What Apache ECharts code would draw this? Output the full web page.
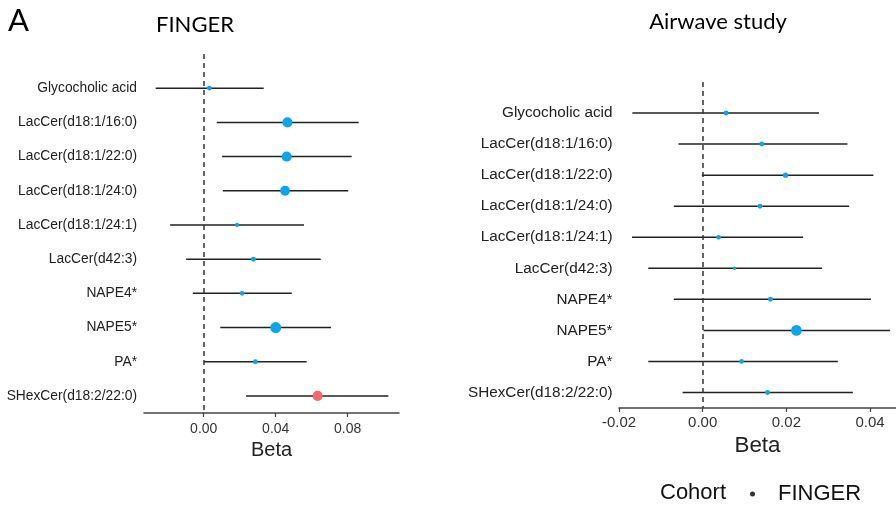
<!DOCTYPE html>
<html>
  <head>
    <meta charset="utf-8" />
    <title>FINGER / Airwave forest plot</title>
    <script src="https://cdn.jsdelivr.net/npm/echarts@6/dist/echarts.min.js"></script>
    <style>
      html, body { margin: 0; padding: 0; background: #fff; }
      #main { width: 896px; height: 508px; }
    </style>
  </head>
  <body>
    <div id="main"></div>
    <script>
      // 代谢物名称
      var categories = ['Glycocholic acid', 'LacCer(d18:1/16:0)', 'LacCer(d18:1/22:0)', 'LacCer(d18:1/24:0)',
        'LacCer(d18:1/24:1)', 'LacCer(d42:3)', 'NAPE4*', 'NAPE5*', 'PA*', 'SHexCer(d18:2/22:0)'];

      // FINGER
      var fingerBeta = [0.0031, 0.0465, 0.0461, 0.0452, 0.0185, 0.0276, 0.0213, 0.0400, 0.0287, 0.0633];
      var fingerLow  = [-0.0267, 0.0072, 0.0102, 0.0106, -0.0187, -0.0098, -0.0061, 0.0092, 0.0002, 0.0235];
      var fingerHigh = [0.0333, 0.0861, 0.0822, 0.0803, 0.0557, 0.0650, 0.0489, 0.0707, 0.0572, 0.1026];
      var fingerLogP = [1.0, 3.0, 3.0, 2.9, 0.8, 1.1, 1.0, 3.3, 1.1, 3.0];
      var fingerFlag = [0, 0, 0, 0, 0, 0, 0, 0, 0, 1];
      var fingerTicks = [0, 0.04, 0.08];

      // Airwave study
      var airBeta = [0.0056, 0.0141, 0.0198, 0.0137, 0.0038, 0.0076, 0.0162, 0.0224, 0.0093, 0.0155];
      var airLow  = [-0.0168, -0.0058, -0.0002, -0.0069, -0.0169, -0.0130, -0.0069, 0.0002, -0.0130, -0.0048];
      var airHigh = [0.0278, 0.0346, 0.0408, 0.0350, 0.0240, 0.0285, 0.0402, 0.0448, 0.0323, 0.0359];
      var airLogP = [1.1, 1.1, 1.2, 1.1, 1.0, 0.5, 1.1, 3.2, 1.0, 1.1];
      var airFlag = [0, 0, 0, 0, 0, 0, 0, 0, 0, 0];
      var airTicks = [-0.02, 0, 0.02, 0.04];

      var rowIdx = categories.map(function (c, i) { return i; });
      var blue = '#0ba5ec', red = '#f46a6a';

      function points(beta, logp, flag) {
        return beta.map(function (b, i) {
          return {
            value: [b, i],
            symbolSize: 2 + logp[i] * 2.7,
            itemStyle: { color: flag[i] ? red : blue, opacity: 1 }
          };
        });
      }
      function bars(low, high) {
        return low.map(function (l, i) { return [l, high[i], i]; });
      }
      function renderBar(params, api) {
        var s = api.coord([api.value(0), api.value(2)]);
        var e = api.coord([api.value(1), api.value(2)]);
        return {
          type: 'line',
          shape: { x1: s[0], y1: s[1], x2: e[0], y2: e[1] },
          style: { stroke: '#222', lineWidth: 1.5 }
        };
      }
      function yAxis(idx, size, margin) {
        return {
          type: 'value', gridIndex: idx, inverse: true, min: -1, max: 9.5,
          axisLine: { show: false }, axisTick: { show: false }, splitLine: { show: false },
          axisLabel: {
            customValues: rowIdx, margin: margin, fontSize: size, color: '#222',
            fontFamily: 'Liberation Sans',
            formatter: function (v) { return categories[v] || ''; }
          }
        };
      }
      function xAxis(idx, min, max, ticks, size, margin, nameSize, nameGap) {
        return {
          type: 'value', gridIndex: idx, min: min, max: max,
          splitLine: { show: false },
          axisLine: { onZero: false, lineStyle: { color: '#444', width: 1.5 } },
          axisTick: { customValues: ticks, length: 4, lineStyle: { color: '#444', width: 1.2 } },
          axisLabel: {
            customValues: ticks, margin: margin, fontSize: size, color: '#333',
            fontFamily: 'Liberation Sans',
            formatter: function (v) { return v.toFixed(2); }
          },
          name: 'Beta', nameLocation: 'middle', nameGap: nameGap,
          nameTextStyle: { fontSize: nameSize, color: '#222', fontFamily: 'Liberation Sans' }
        };
      }
      var zeroLine = {
        silent: true, symbol: 'none', label: { show: false },
        lineStyle: { color: '#333', type: [5, 4], width: 1.5 },
        data: [{ xAxis: 0 }]
      };

      var myChart = echarts.init(document.getElementById('main'));
      var option = {
        animation: false,
        graphic: [
          { type: 'text', x: 8, y: 21, style: { text: 'A', fontSize: 31, fontFamily: 'Lato', fill: '#000', textVerticalAlign: 'middle' } },
          { type: 'text', x: 195, y: 25, style: { text: 'FINGER', fontSize: 22, fontFamily: 'Lato', fill: '#000', textAlign: 'center', textVerticalAlign: 'middle' } },
          { type: 'text', x: 718, y: 22, style: { text: 'Airwave study', fontSize: 22, fontFamily: 'Lato', fill: '#000', textAlign: 'center', textVerticalAlign: 'middle' } },
          { type: 'text', x: 660, y: 493, style: { text: 'Cohort', fontSize: 22, fontFamily: 'Liberation Sans', fill: '#111', textVerticalAlign: 'middle' } }
        ],
        legend: {
          data: [{ name: 'FINGER', icon: 'circle', itemStyle: { color: '#000' } }],
          left: 745, top: 478, itemWidth: 5, itemHeight: 5, selectedMode: false,
          textStyle: { fontSize: 22, color: '#111', fontFamily: 'Liberation Sans', padding: [0, 0, 0, 18] }
        },
        grid: [
          { left: 144, right: 497, top: 54, bottom: 95 },
          { left: 619, right: 0, top: 82, bottom: 100 }
        ],
        xAxis: [
          xAxis(0, -0.0332, 0.1085, fingerTicks, 14, 9, 20, 26),
          xAxis(1, -0.02, 0.0462, airTicks, 15, 7, 22.4, 25)
        ],
        yAxis: [yAxis(0, 13.8, 7), yAxis(1, 15.3, 6.5)],
        series: [
          {
            type: 'custom', name: 'finger-ci', xAxisIndex: 0, yAxisIndex: 0,
            renderItem: renderBar, encode: { x: [0, 1], y: 2 },
            data: bars(fingerLow, fingerHigh), markLine: zeroLine
          },
          {
            type: 'scatter', name: 'FINGER', xAxisIndex: 0, yAxisIndex: 0,
            data: points(fingerBeta, fingerLogP, fingerFlag)
          },
          {
            type: 'custom', name: 'airwave-ci', xAxisIndex: 1, yAxisIndex: 1,
            renderItem: renderBar, encode: { x: [0, 1], y: 2 },
            data: bars(airLow, airHigh), markLine: zeroLine
          },
          {
            type: 'scatter', name: 'Airwave', xAxisIndex: 1, yAxisIndex: 1,
            data: points(airBeta, airLogP, airFlag)
          }
        ]
      };
      myChart.setOption(option);
    </script>
  </body>
</html>
